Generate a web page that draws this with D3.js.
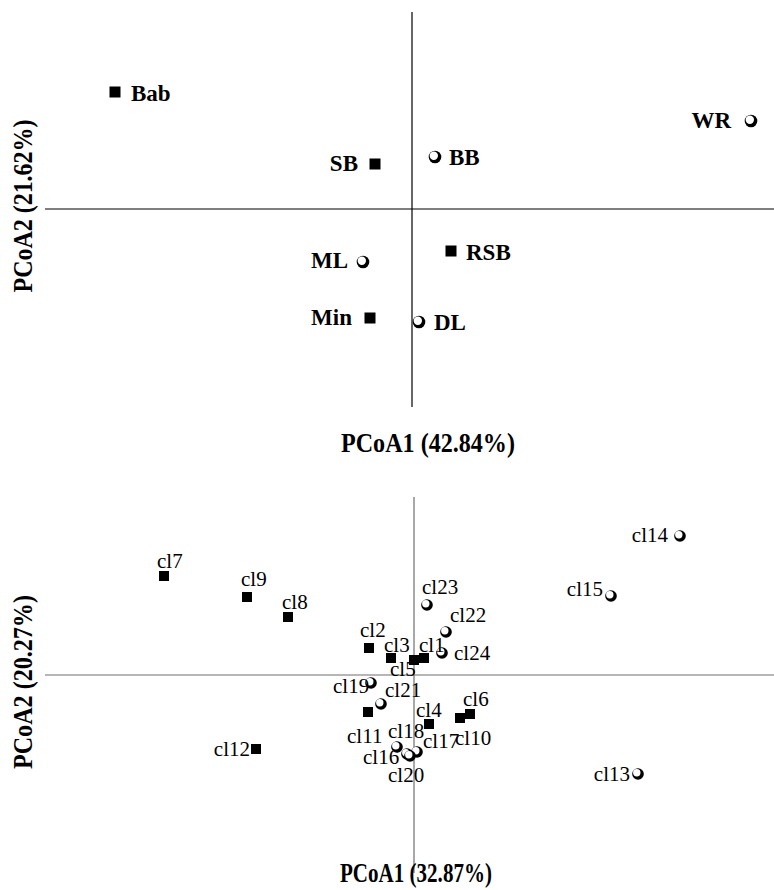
<!DOCTYPE html>
<html>
<head>
<meta charset="utf-8">
<script src="https://cdn.jsdelivr.net/npm/d3@7"></script>
<style>
  html, body { margin: 0; padding: 0; background: #fff; }
  svg { display: block; }
</style>
</head>
<body>
<svg id="chart" width="774" height="890"></svg>
<script>
// ---- Population PCoA (upper panel) ----
const popNames  = ["Bab", "SB", "BB", "WR", "ML", "RSB", "Min", "DL"];
const popPC1    = [-0.297, -0.037, 0.023, 0.339, -0.049, 0.039, -0.042, 0.007];
const popPC2    = [0.117, 0.045, 0.052, 0.088, -0.053, -0.042, -0.109, -0.113];
const popShape  = ["square", "square", "circle", "circle", "circle", "square", "square", "circle"];
const popAxisX  = "PCoA1 (42.84%)";
const popAxisY  = "PCoA2 (21.62%)";

// ---- Cluster PCoA (lower panel) ----
const clNames = ["cl1","cl2","cl3","cl4","cl5","cl6","cl7","cl8","cl9","cl10","cl11","cl12",
                 "cl13","cl14","cl15","cl16","cl17","cl18","cl19","cl20","cl21","cl22","cl23","cl24"];
const clPC1 = [0.010, -0.045, -0.023, 0.015, 0.000, 0.056, -0.250, -0.126, -0.167, 0.046, -0.046, -0.158,
               0.224, 0.266, 0.197, -0.007, 0.003, -0.017, -0.043, -0.004, -0.033, 0.032, 0.013, 0.028];
const clPC2 = [0.017, 0.027, 0.017, -0.049, 0.015, -0.039, 0.099, 0.058, 0.078, -0.043, -0.037, -0.074,
               -0.099, 0.139, 0.079, -0.079, -0.077, -0.072, -0.008, -0.081, -0.029, 0.043, 0.070, 0.022];
const clShape = ["square","square","square","square","square","square","square","square","square","square","square","square",
                 "circle","circle","circle","circle","circle","circle","circle","circle","circle","circle","circle","circle"];
const clAxisX = "PCoA1 (32.87%)";
const clAxisY = "PCoA2 (20.27%)";

// label placement relative to each marker: [dx, dy, anchor]
const popLabelPos = {
  Bab: [16, 9, "start"], SB: [-17, 7, "end"], BB: [14, 8, "start"], WR: [-20, 7, "end"],
  ML: [-15, 6, "end"], RSB: [15, 9, "start"], Min: [-18, 7, "end"], DL: [15, 8, "start"]
};
const clLabelPos = {
  cl1: [-5, -6, "start"], cl2: [-9, -11, "start"], cl3: [-7, -6, "start"], cl4: [-13, -7, "start"],
  cl5: [-24, 16, "start"], cl6: [-7, -8, "start"], cl7: [-7, -8, "start"], cl8: [-6, -8, "start"],
  cl9: [-6, -11, "start"], cl10: [-5, 27, "start"], cl11: [-21, 31, "start"], cl12: [-6, 7, "end"],
  cl13: [-8, 7, "end"], cl14: [-12, 6, "end"], cl15: [-8, 0, "end"], cl16: [-44, 10, "start"],
  cl17: [6, -4, "start"], cl18: [-9, -9, "start"], cl19: [-38, 10, "start"], cl20: [-22, 26, "start"],
  cl21: [4, -7, "start"], cl22: [4, -10, "start"], cl23: [-5, -11, "start"], cl24: [12, 7, "start"]
};

const svg = d3.select("#chart");
const serif = "'Liberation Serif', 'Times New Roman', serif";

function drawMarker(g, shape, cx, cy, size) {
  if (shape === "square") {
    g.append("rect")
      .attr("x", cx - size / 2).attr("y", cy - size / 2)
      .attr("width", size).attr("height", size)
      .attr("fill", "#000");
  } else {
    const r = size / 2 + 0.8;
    g.append("circle").attr("cx", cx).attr("cy", cy).attr("r", r).attr("fill", "#000");
    g.append("circle").attr("cx", cx - 1.2).attr("cy", cy - 1.2).attr("r", r - 2.1).attr("fill", "#fff");
  }
}

function panel(cfg) {
  const g = svg.append("g");
  const x = d3.scaleLinear().domain(cfg.xDomain).range(cfg.xRange);
  const y = d3.scaleLinear().domain(cfg.yDomain).range(cfg.yRange);

  // cross-hair axes through the origin
  g.append("line")
    .attr("x1", x(cfg.xDomain[0])).attr("x2", x(cfg.xDomain[1]))
    .attr("y1", y(0)).attr("y2", y(0))
    .attr("stroke", cfg.axisColor).attr("stroke-width", 1.2);
  g.append("line")
    .attr("x1", x(0)).attr("x2", x(0))
    .attr("y1", y(cfg.yDomain[0])).attr("y2", y(cfg.yDomain[1]))
    .attr("stroke", cfg.axisColor).attr("stroke-width", 1.2);

  const pts = cfg.names.map((n, i) => ({ name: n, px: cfg.pc1[i], py: cfg.pc2[i], shape: cfg.shape[i] }));

  pts.forEach(d => drawMarker(g, d.shape, x(d.px), y(d.py), cfg.markerSize));

  pts.forEach(d => {
    const p = cfg.labelPos[d.name];
    g.append("text")
      .attr("x", x(d.px) + p[0]).attr("y", y(d.py) + p[1])
      .attr("text-anchor", p[2])
      .attr("font-family", serif)
      .attr("font-size", cfg.labelSize)
      .attr("font-weight", cfg.labelWeight)
      .attr("fill", "#000")
      .text(d.name);
  });

  // axis titles
  g.append("text")
    .attr("x", cfg.xTitle[0]).attr("y", cfg.xTitle[1])
    .attr("text-anchor", "middle")
    .attr("font-family", serif).attr("font-size", 27).attr("font-weight", "bold")
    .attr("textLength", cfg.xTitle[2]).attr("lengthAdjust", "spacingAndGlyphs")
    .text(cfg.xLabel);
  g.append("text")
    .attr("transform", `translate(${cfg.yTitle[0]},${cfg.yTitle[1]}) rotate(-90)`)
    .attr("text-anchor", "middle")
    .attr("font-family", serif).attr("font-size", 27).attr("font-weight", "bold")
    .attr("textLength", cfg.yTitle[2]).attr("lengthAdjust", "spacingAndGlyphs")
    .text(cfg.yLabel);
}

panel({
  names: popNames, pc1: popPC1, pc2: popPC2, shape: popShape,
  xDomain: [-0.367, 0.362], xRange: [45, 774],
  yDomain: [-0.198, 0.197], yRange: [407, 12],
  axisColor: "#000", markerSize: 11,
  labelPos: popLabelPos, labelSize: 23, labelWeight: "bold",
  xLabel: popAxisX, yLabel: popAxisY,
  xTitle: [428, 452, 174], yTitle: [32, 206, 173]
});

panel({
  names: clNames, pc1: clPC1, pc2: clPC2, shape: clShape,
  xDomain: [-0.369, 0.360], xRange: [45, 774],
  yDomain: [-0.198, 0.178], yRange: [873, 497],
  axisColor: "#6e6e6e", markerSize: 10,
  labelPos: clLabelPos, labelSize: 21, labelWeight: "normal",
  xLabel: clAxisX, yLabel: clAxisY,
  xTitle: [416, 882, 152], yTitle: [32, 682, 174]
});
</script>
</body>
</html>
